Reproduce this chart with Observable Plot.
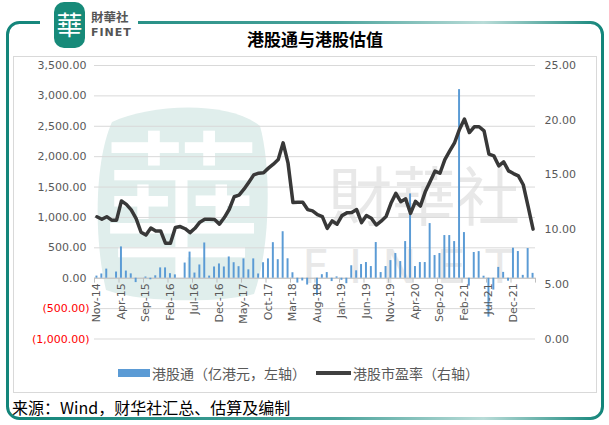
<!DOCTYPE html>
<html><head><meta charset="utf-8">
<script src="https://cdn.jsdelivr.net/npm/d3@7"></script>
<script src="https://cdn.jsdelivr.net/npm/@observablehq/plot@0.6"></script>
<style>
html,body{margin:0;padding:0;background:#fff;}
#wrap{position:relative;width:609px;height:425px;overflow:hidden;background:#fff;font-family:"Noto Sans CJK SC","Noto Sans",sans-serif;}
#bg{position:absolute;left:0;top:0;}
#chart{position:absolute;left:0;top:0;}
.abs{position:absolute;}
#title{left:0;width:630px;top:26px;text-align:center;font-size:17px;font-weight:bold;color:#000;}
#legend{left:118px;top:363px;font-size:14px;color:#595959;display:flex;align-items:center;white-space:nowrap;}
#caption{left:12px;top:395px;font-size:16px;color:#000;white-space:nowrap;}
#logo{left:40px;top:0px;width:98px;height:50px;background:#fff;}
</style></head>
<body><div id="wrap">
<svg id="bg" width="609" height="425">
 <defs>
  <linearGradient id="fr" x1="0" x2="1" y1="0" y2="0">
   <stop offset="0" stop-color="#13857a"/>
   <stop offset="0.55" stop-color="#4aa39b"/>
   <stop offset="0.8" stop-color="#b9dcd8"/>
   <stop offset="1" stop-color="#13857a"/>
  </linearGradient>
 </defs>
 <rect x="7.5" y="22.5" width="595" height="396" rx="12" fill="none" stroke="url(#fr)" stroke-width="3"/>
 <rect x="13.5" y="56.5" width="583" height="336" fill="#fff" stroke="#d9d9d9" stroke-width="1"/>
 <path d="M112,122 C150,104 228,100 260,126 C272,170 270,250 254,294 C220,303 142,303 106,290 C94,240 94,162 112,122 Z" fill="#e0eeec"/>
 <text x="182" y="266" text-anchor="middle" font-size="160" fill="#fff" font-family="Noto Sans CJK TC">華</text>
 <text x="424" y="220" text-anchor="middle" font-size="64" fill="#e8e8e8" font-family="Noto Sans CJK TC">財華社</text>
 <text x="418" y="283" text-anchor="middle" font-size="46" fill="#e8e8e8" letter-spacing="20" font-family="DejaVu Sans">FINET</text>
</svg>
<div id="chart"></div>
<div id="logo" class="abs">
 <svg width="98" height="50">
  <rect x="14" y="2" width="31" height="46" rx="10" fill="#178a79"/>
  <text x="29.5" y="35" text-anchor="middle" font-size="26" fill="#fff" font-family="Noto Sans CJK TC">華</text>
  <text x="51" y="22" font-size="12.5" font-weight="bold" fill="#555" font-family="Noto Sans CJK TC">財華社</text>
  <text x="51" y="36" font-size="11" font-weight="bold" fill="#555" letter-spacing="1" font-family="DejaVu Sans">FINET</text>
 </svg>
</div>
<div id="title" class="abs">港股通与港股估值</div>
<div id="legend" class="abs">
 <span style="display:inline-block;width:32px;height:8px;background:#5B9BD5;margin-right:2px"></span><span>港股通（亿港元，左轴）</span>
 <span style="display:inline-block;width:35px;height:3.5px;background:#404040;margin:0 2px 0 10px"></span><span>港股市盈率（右轴）</span>
</div>
<div id="caption" class="abs">来源：Wind，财华社汇总、估算及编制</div>
</div>
<script>
const months = [
 "Nov-14","Dec-14",
 "Jan-15","Feb-15","Mar-15","Apr-15","May-15","Jun-15","Jul-15","Aug-15","Sep-15","Oct-15","Nov-15","Dec-15",
 "Jan-16","Feb-16","Mar-16","Apr-16","May-16","Jun-16","Jul-16","Aug-16","Sep-16","Oct-16","Nov-16","Dec-16",
 "Jan-17","Feb-17","Mar-17","Apr-17","May-17","Jun-17","Jul-17","Aug-17","Sep-17","Oct-17","Nov-17","Dec-17",
 "Jan-18","Feb-18","Mar-18","Apr-18","May-18","Jun-18","Jul-18","Aug-18","Sep-18","Oct-18","Nov-18","Dec-18",
 "Jan-19","Feb-19","Mar-19","Apr-19","May-19","Jun-19","Jul-19","Aug-19","Sep-19","Oct-19","Nov-19","Dec-19",
 "Jan-20","Feb-20","Mar-20","Apr-20","May-20","Jun-20","Jul-20","Aug-20","Sep-20","Oct-20","Nov-20","Dec-20",
 "Jan-21","Feb-21","Mar-21","Apr-21","May-21","Jun-21","Jul-21","Aug-21","Sep-21","Oct-21","Nov-21","Dec-21",
 "Jan-22","Feb-22","Mar-22","Apr-22"
];
// 港股通 (亿港元, 左轴)
const flows = [
 35,70,
 150,0,102,515,118,72,-72,0,20,-25,40,170,
 170,75,55,0,250,430,85,218,580,35,185,235,
 185,350,255,190,318,138,318,70,255,318,585,305,
 765,320,90,-80,-45,-112,0,-285,58,93,-55,22,
 -35,-90,205,122,225,258,192,587,93,192,290,406,
 274,603,1387,192,258,258,899,373,406,702,702,603,
 3103,751,-130,423,438,33,-640,-195,178,96,-49,494,
 439,47,488,80
];
// 港股市盈率 (右轴)
const pe = [
 11.17,10.95,
 11.18,10.86,10.86,12.62,12.3,11.8,11.0,9.76,9.5,10.15,9.88,9.88,
 8.75,8.75,10.2,10.28,10.08,9.72,10.12,10.68,10.95,10.95,10.92,10.5,
 11.1,11.86,13.0,13.15,13.69,14.33,15.0,15.16,15.2,15.62,15.98,16.4,
 17.93,16.07,12.47,12.5,12.5,11.83,11.71,11.36,11.18,10.11,10.8,10.49,
 11.28,11.53,11.56,11.83,10.64,11.28,11.04,10.42,10.77,11.19,12.4,13.31,
 12.55,12.81,11.48,12.58,12.15,13.45,14.4,15.35,15.15,16.4,17.2,17.96,
 19.18,20.1,18.87,19.4,19.4,19.03,16.9,16.74,15.83,16.19,15.37,15.12,
 14.91,14.1,12.1,10.04
];
const xTickLabels = ["Nov-14","Apr-15","Sep-15","Feb-16","Jul-16","Dec-16","May-17","Oct-17","Mar-18","Aug-18","Jan-19","Jun-19","Nov-19","Apr-20","Sep-20","Feb-21","Jul-21","Dec-21"];
const leftTicks = [-1000,-500,0,500,1000,1500,2000,2500,3000,3500];
const rightTicks = [0,5,10,15,20,25];

const leftMin = -1000, leftMax = 3500, rightMax = 25;
const toLeft = v => leftMin + v * (leftMax - leftMin) / rightMax;

const data = months.map((m, i) => ({month: m, flow: flows[i], pe: pe[i]}));
const W = 609, H = 425, mL = 94, mR = 74, mT = 65, mB = 86.5;
const step = (W - mL - mR) / months.length;
const font = "DejaVu Sans";
const fmt = d3.format(",.2f");
const leftFmt = d => d < 0 ? "(" + fmt(-d) + ")" : fmt(d);

const chart = Plot.plot({
  width: W, height: H,
  marginLeft: mL, marginRight: mR, marginTop: mT, marginBottom: mB,
  style: {background: "transparent", fontFamily: font},
  x: {type: "band", domain: months, paddingInner: 0.6, paddingOuter: 0.3, axis: null},
  y: {domain: [leftMin, leftMax], axis: null},
  marks: [
    Plot.ruleY(leftTicks, {stroke: "#d9d9d9", strokeWidth: 1}),
    Plot.ruleY([0], {stroke: "#bfbfbf", strokeWidth: 1}),
    Plot.barY(data, {x: "month", y: "flow", fill: "#5B9BD5"}),
    Plot.ruleX(xTickLabels, {x: d => d, y1: 0, y2: -80, dx: -step / 2, stroke: "#bfbfbf"}),
    Plot.ruleX([months[months.length - 1]], {x: d => d, y1: 0, y2: -80, dx: step / 2, stroke: "#bfbfbf"}),
    Plot.line(data, {x: "month", y: d => toLeft(d.pe), stroke: "#383838", strokeWidth: 3.5, strokeLinejoin: "round", strokeLinecap: "round"}),
    Plot.text(leftTicks.filter(d => d >= 0), {y: d => d, text: leftFmt, frameAnchor: "left", textAnchor: "end", dx: -8, fill: "#595959", fontSize: 11, fontFamily: font}),
    Plot.text(leftTicks.filter(d => d < 0), {y: d => d, text: leftFmt, frameAnchor: "left", textAnchor: "end", dx: -5, fill: "#ff0000", fontSize: 11, fontFamily: font}),
    Plot.text(rightTicks, {y: d => toLeft(d), text: d => d.toFixed(2), frameAnchor: "right", textAnchor: "start", dx: 9, fill: "#595959", fontSize: 11, fontFamily: font}),
    Plot.text(xTickLabels, {x: d => d, y: 0, text: d => d, rotate: -90, textAnchor: "end", dy: 5, fill: "#595959", fontSize: 11, fontFamily: font})
  ]
});
document.getElementById("chart").appendChild(chart);
</script>
</body></html>
